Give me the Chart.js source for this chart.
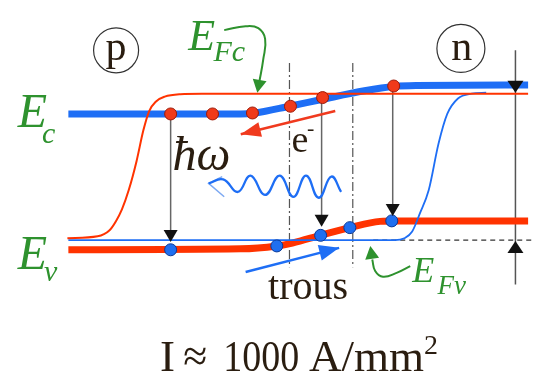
<!DOCTYPE html>
<html>
<head>
<meta charset="utf-8">
<script src="https://cdn.jsdelivr.net/npm/chart.js"></script>
<style>
  html, body { margin: 0; padding: 0; background: #fff; }
  #wrap { width: 539px; height: 383px; }
</style>
</head>
<body>
<div id="wrap"><canvas id="diagram"></canvas></div>
<script>
// ===================================
// Band diagram of a forward-biased p-n junction (laser diode)
// x, y; y grows downward
// ===================================

// band edges
const ecBand = [[63,111],[240,111],[255,110],[290,103],[323,96],[367,87],[397,82.5],[420,81.5],[535,81]];
const evBand = [[63,252],[240,251],[277,248],[293,245],[322,237],[352,229],[383,222.5],[400,222],[535,222]];

// quasi-Fermi levels
const efcCurve = [[62,240],[93,238],[105,232],[112,222],[118,210],[125,190],[133,160],[140,128],[146,108],[153,98],[162,93],[178,90.5],[200,90],[535,90]];
const efvCurve = [[63,242],[398,242],[408,240],[416,233],[424,214],[433,190],[443,142],[452,111],[463,95],[477,90],[492,89]];
const efvRef = [[376,242],[539,242]];

// junction edges (dash-dot)
const junctionX = [290, 355];
const junctionSpan = [58, 270];

// carriers
const electrons = [[168,111],[211,111],[252,110],[291,103],[324,94],[397,82]];
const holes = [[168,252],[277,248],[322,237],[352,229],[395,222]];

// radiative transitions: x, start (Ec), arrow tip (Ev)
const transitions = [[168,111,244],[323,94,228],[396,82,217]];

// gap marker on the right: x, top, bottom, down-tip, up-tip
const gapMarker = [522, 45, 288, 89, 243];

// photon
const photon = [[207,183],[222,179],[237,192],[250,175],[265,195],[280,175],[294,197],[307,175],[320,198],[333,176],[343,192]];
const photonHead = [[221,176],[207,183],[223,197]];

// carrier flows: tail, tip
const electronFlow = [[337,108],[240,132]];
const holeFlow = [[245,275],[341,250]];

// label pointers
const efcPointer = [[223,24],[245,20],[258,22],[265,33],[263,55],[259,78]];
const efcTip = [257,89];
const efvPointer = [[414,269],[400,276],[386,280],[378,274],[375,262]];
const efvTip = [373,248];

const GREEN = '#2e922e';
const BLUE = '#1e6ef5';
const RED = '#ff3300';
const INK = '#2a1d10';

const pts = a => a.map(p => ({ x: p[0], y: p[1] }));

function line(data, color, width, extra = {}) {
  return Object.assign({
    data: pts(data),
    showLine: true,
    borderColor: color,
    borderWidth: width,
    pointRadius: 0,
    fill: false
  }, extra);
}

const datasets = [];

// carriers on top
datasets.push({ data: pts(electrons), pointRadius: 6, backgroundColor: '#f03a1a', borderColor: '#9e1a08', borderWidth: 1, order: 0 });
datasets.push({ data: pts(holes), pointRadius: 6, backgroundColor: '#1f6ff0', borderColor: '#0b3a98', borderWidth: 1, order: 0 });

// flows, photon, pointers
datasets.push(line(electronFlow, '#f03a1e', 2.5, { order: 1 }));
datasets.push(line(holeFlow, BLUE, 2.5, { order: 1 }));
datasets.push(line(photon, BLUE, 2.3, { tension: 0.45, order: 1 }));
datasets.push(line(photonHead, '#7da9f2', 1.5, { order: 1 }));
datasets.push(line(efcPointer, GREEN, 2, { tension: 0.45, order: 1 }));
datasets.push(line(efvPointer, GREEN, 2, { tension: 0.45, order: 1 }));

// thin quasi-Fermi curves
datasets.push(line(efcCurve, RED, 2, { cubicInterpolationMode: 'monotone', order: 2 }));
datasets.push(line(efvCurve, BLUE, 1.8, { cubicInterpolationMode: 'monotone', order: 2 }));

// thick bands
datasets.push(line(ecBand, BLUE, 7, { cubicInterpolationMode: 'monotone', order: 3 }));
datasets.push(line(evBand, RED, 7, { cubicInterpolationMode: 'monotone', order: 3 }));

// guides
datasets.push(line(efvRef, '#333', 1.3, { borderDash: [5, 4], order: 4 }));
junctionX.forEach(x => {
  datasets.push(line([[x, junctionSpan[0]], [x, junctionSpan[1]]], '#555', 1.2, { borderDash: [9, 3, 2, 3], order: 4 }));
});
transitions.forEach(t => {
  datasets.push(line([[t[0], t[1]], [t[0], t[2] - 4]], '#666', 1.5, { order: 4 }));
});
datasets.push(line([[gapMarker[0], gapMarker[1]], [gapMarker[0], gapMarker[2]]], '#555', 1.5, { order: 4 }));

// arrowheads, labels, circles
const overlay = {
  id: 'overlay',
  afterDatasetsDraw(chart) {
    const ctx = chart.ctx;
    const X = v => chart.scales.x.getPixelForValue(v);
    const Y = v => chart.scales.y.getPixelForValue(v);

    function head(tip, from, len, half, color) {
      const tx = X(tip[0]), ty = Y(tip[1]);
      const fx = X(from[0]), fy = Y(from[1]);
      const a = Math.atan2(ty - fy, tx - fx);
      ctx.save();
      ctx.fillStyle = color;
      ctx.beginPath();
      ctx.moveTo(tx, ty);
      ctx.lineTo(tx - len * Math.cos(a) - half * Math.sin(a), ty - len * Math.sin(a) + half * Math.cos(a));
      ctx.lineTo(tx - len * Math.cos(a) + half * Math.sin(a), ty - len * Math.sin(a) - half * Math.cos(a));
      ctx.closePath();
      ctx.fill();
      ctx.restore();
    }

    transitions.forEach(t => head([t[0], t[2]], [t[0], t[1]], 12, 7, '#111'));
    head([gapMarker[0], gapMarker[3]], [gapMarker[0], gapMarker[1]], 12, 8, '#111');
    head([gapMarker[0], gapMarker[4]], [gapMarker[0], gapMarker[2]], 12, 8, '#111');
    head(electronFlow[1], electronFlow[0], 20, 7.5, '#f03a1e');
    head(holeFlow[1], holeFlow[0], 20, 8, BLUE);
    head(efcTip, efcPointer[efcPointer.length - 1], 13, 7, GREEN);
    head(efvTip, efvPointer[efvPointer.length - 1], 13, 7, GREEN);

    // p / n circles
    ctx.save();
    ctx.strokeStyle = '#333';
    ctx.lineWidth = 1.2;
    [[112, 45, 22.5], [466, 43, 24]].forEach(c => {
      ctx.beginPath();
      ctx.arc(X(c[0]), Y(c[1]), c[2], 0, Math.PI * 2);
      ctx.stroke();
    });
    ctx.restore();

    function text(t, x, y, font, color, maxW, align) {
      ctx.save();
      ctx.font = font + ' "Liberation Serif", "Times New Roman", serif';
      ctx.fillStyle = color;
      ctx.textAlign = align || 'left';
      ctx.textBaseline = 'alphabetic';
      if (maxW) ctx.fillText(t, X(x), Y(y), maxW);
      else ctx.fillText(t, X(x), Y(y));
      ctx.restore();
    }

    text('p', 112, 55, '42px', INK, null, 'center');
    text('n', 467, 55, '42px', INK, null, 'center');

    text('E', 11, 125, 'italic 48px', GREEN);
    text('c', 36, 141, 'italic 30px', GREEN);
    text('E', 11, 272, 'italic 48px', GREEN);
    text('v', 38, 284, 'italic 30px', GREEN);
    text('E', 186, 45, 'italic 44px', GREEN);
    text('Fc', 212, 56, 'italic 30px', GREEN);
    text('E', 416, 285, 'italic 36px', GREEN);
    text('Fv', 442, 298, 'italic 27px', GREEN);

    text('\u0127\u03c9', 170, 169, 'italic 48px', INK);
    text('e', 292, 150, '38px', INK);
    text('-', 308, 133, '22px', INK);
    text('trous', 268, 303, '40px', INK);

    text('I', 157, 378, '45px', INK);
    text('\u2248', 181, 378, '45px', INK, 24);
    text('1000', 222, 378, '45px', INK, 76);
    text('A/mm', 310, 378, '45px', INK, 118);
    text('2', 428, 360, '28px', INK);
  }
};

new Chart(document.getElementById('diagram'), {
  type: 'scatter',
  data: { datasets: datasets },
  options: {
    responsive: true,
    maintainAspectRatio: false,
    animation: false,
    layout: { padding: 0 },
    plugins: {
      legend: { display: false },
      tooltip: { enabled: false }
    },
    scales: {
      x: { type: 'linear', min: 0, max: 539, display: false },
      y: { type: 'linear', min: 0, max: 383, reverse: true, display: false }
    }
  },
  plugins: [overlay]
});
</script>
</body>
</html>
